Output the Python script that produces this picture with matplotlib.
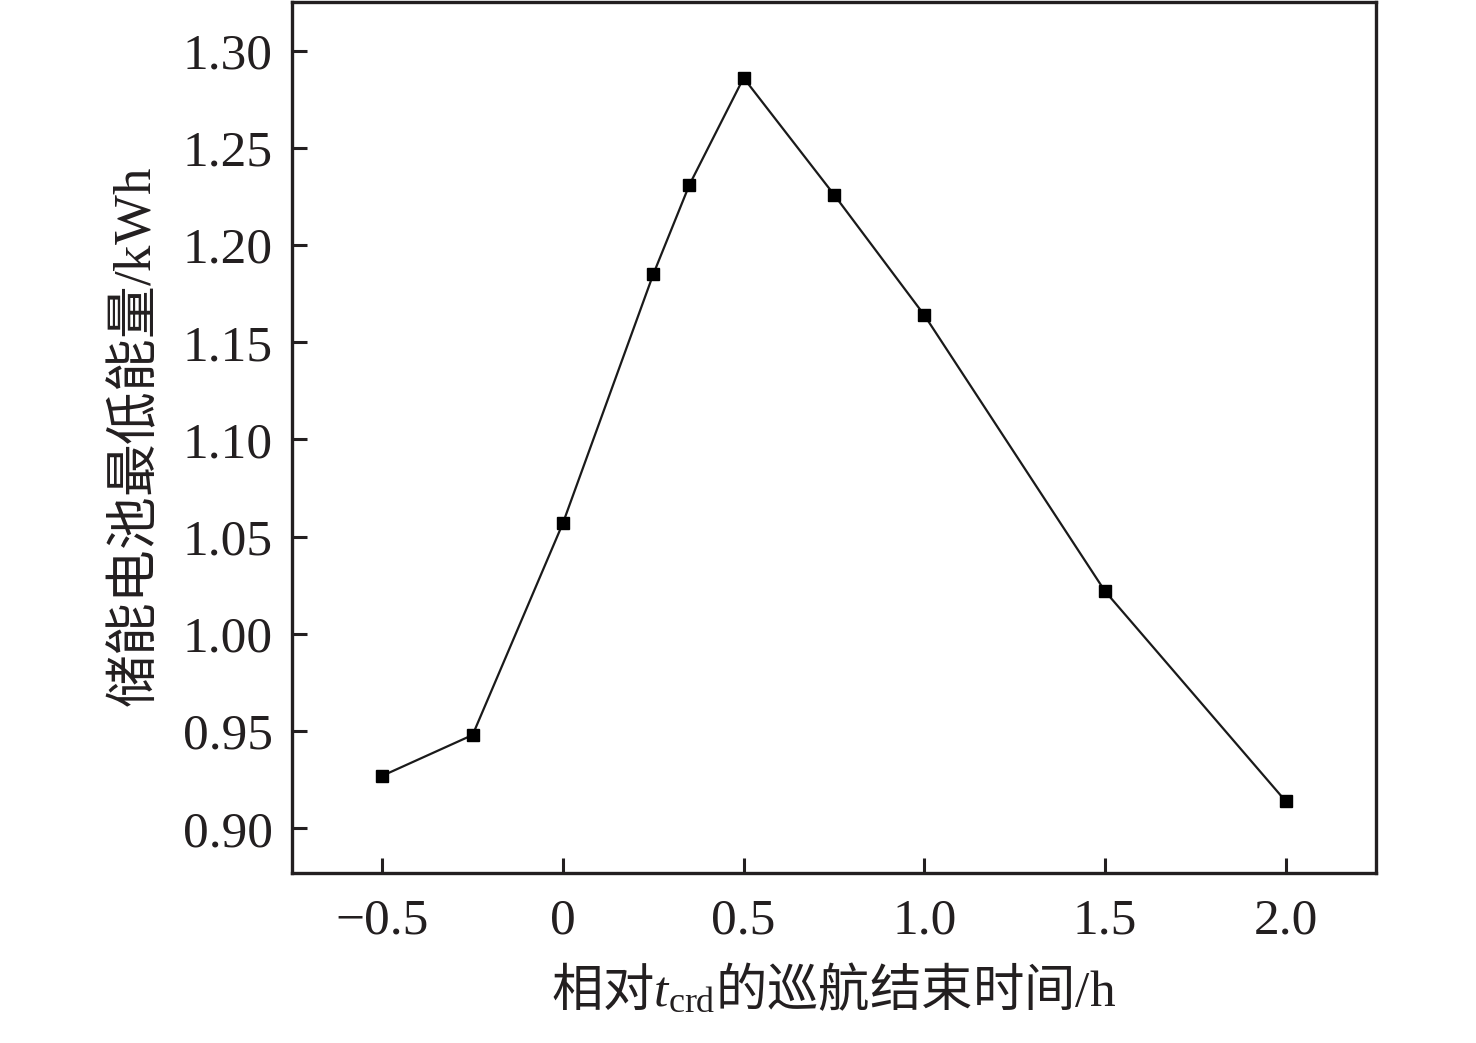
import matplotlib
matplotlib.use('Agg')
import matplotlib.pyplot as plt

# data
end_time = [-0.5, -0.25, 0.0, 0.25, 0.35, 0.5, 0.75, 1.0, 1.5, 2.0]
min_energy = [0.927, 0.948, 1.057, 1.185, 1.231, 1.286, 1.226, 1.164, 1.022, 0.914]

xticks = [-0.5, 0.0, 0.5, 1.0, 1.5, 2.0]
xtick_labels = ['\u22120.5', '0', '0.5', '1.0', '1.5', '2.0']
yticks = [0.90, 0.95, 1.00, 1.05, 1.10, 1.15, 1.20, 1.25, 1.30]
ytick_labels = ['%.2f' % v for v in yticks]

plt.rcParams['font.family'] = ['Liberation Serif', 'Noto Sans CJK SC']
plt.rcParams['mathtext.fontset'] = 'custom'
plt.rcParams['mathtext.rm'] = 'Liberation Serif'
plt.rcParams['mathtext.it'] = 'Liberation Serif:italic'

fig = plt.figure(figsize=(14.76, 10.43), dpi=100)
ax = fig.add_axes([0.1978, 0.163, 0.7344, 0.835])

ax.plot(end_time, min_energy, color='#1a1a1a', lw=1.6,
        marker='s', markersize=8.5, markerfacecolor='black', markeredgecolor='black')

ax.set_xlim(-0.75, 2.25)
ax.set_ylim(0.877, 1.325)
ax.set_xticks(xticks)
ax.set_xticklabels(xtick_labels)
ax.set_yticks(yticks)
ax.set_yticklabels(ytick_labels)

ax.tick_params(direction='in', length=11, width=2.2, labelsize=37, pad=14,
               top=False, right=False, colors='#231f20')
ax.tick_params(axis='x', pad=18)
for s in ax.spines.values():
    s.set_linewidth(2.4)
    s.set_color('#231f20')

ax.set_xlabel('相对$t_{\\mathrm{crd}}$的巡航结束时间$/\\mathrm{h}$',
              family='Noto Sans CJK SC', fontsize=37, labelpad=14, color='#231f20')
ax.set_ylabel('储能电池最低能量$/\\mathrm{kWh}$',
              family='Noto Sans CJK SC', fontsize=38, labelpad=14, color='#231f20')

fig.savefig('out.png', dpi=100, facecolor='white')
